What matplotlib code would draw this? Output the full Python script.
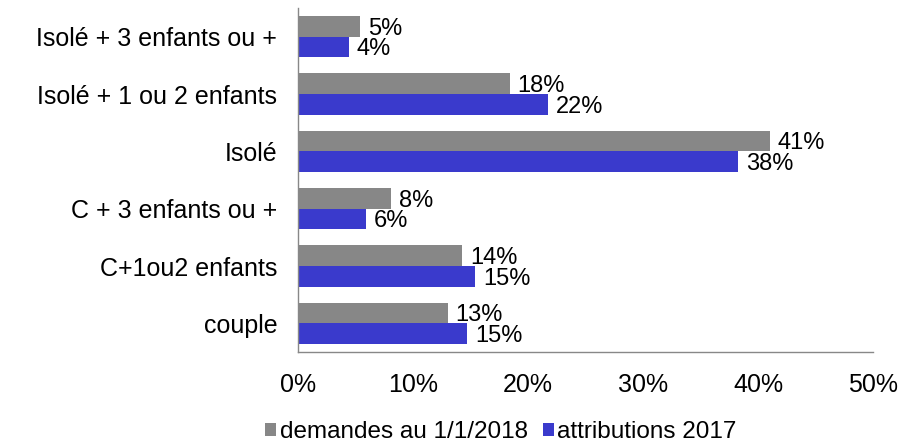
import matplotlib.pyplot as plt
import numpy as np

plt.rcParams['font.family'] = ['Liberation Sans', 'DejaVu Sans']

categories = ["Isolé + 3 enfants ou +", "Isolé + 1 ou 2 enfants", "Isolé",
              "C + 3 enfants ou +", "C+1ou2 enfants", "couple"]
demandes = [5.4, 18.4, 41.0, 8.1, 14.3, 13.0]
attributions = [4.4, 21.7, 38.3, 5.9, 15.4, 14.7]
xticks = [0, 10, 20, 30, 40, 50]

grey = '#878787'
blue = '#3a3acc'
fs = 18

fig = plt.figure(figsize=(9.06, 4.47), dpi=100)
ax = fig.add_axes([298 / 906, 1 - 352 / 447, 575 / 906, 344 / 447])

y = np.arange(len(categories))
h = 0.36
b1 = ax.barh(y - h / 2, demandes, height=h, color=grey, label='demandes au 1/1/2018')
b2 = ax.barh(y + h / 2, attributions, height=h, color=blue, label='attributions 2017')

# etiquettes des valeurs au bout des barres
for bars, vals in [(b1, demandes), (b2, attributions)]:
    for bar, v in zip(bars, vals):
        ax.text(bar.get_width() + 0.7, bar.get_y() + bar.get_height() / 2 + 0.04,
                '%.0f%%' % v, va='center', ha='left', fontsize=17)

ax.set_ylim(len(categories) - 0.5, -0.5)
ax.set_xlim(0, 50)
ax.set_xticks(xticks)
ax.set_xticklabels(['%d%%' % t for t in xticks], fontsize=fs)
ax.set_yticks(y)
ax.set_yticklabels(categories, fontsize=fs)
ax.tick_params(axis='both', length=0)
ax.tick_params(axis='x', pad=15)
ax.tick_params(axis='y', pad=15)

for s in ['top', 'right']:
    ax.spines[s].set_visible(False)
for s in ['left', 'bottom']:
    ax.spines[s].set_color('#888888')
    ax.spines[s].set_linewidth(1)

fig.legend(loc='lower center', bbox_to_anchor=(0.553, -0.04), ncol=2, frameon=False,
           fontsize=17.5, handlelength=0.45, handleheight=0.45, handletextpad=0.15,
           columnspacing=0.6)

fig.savefig('out.png', dpi=100)
